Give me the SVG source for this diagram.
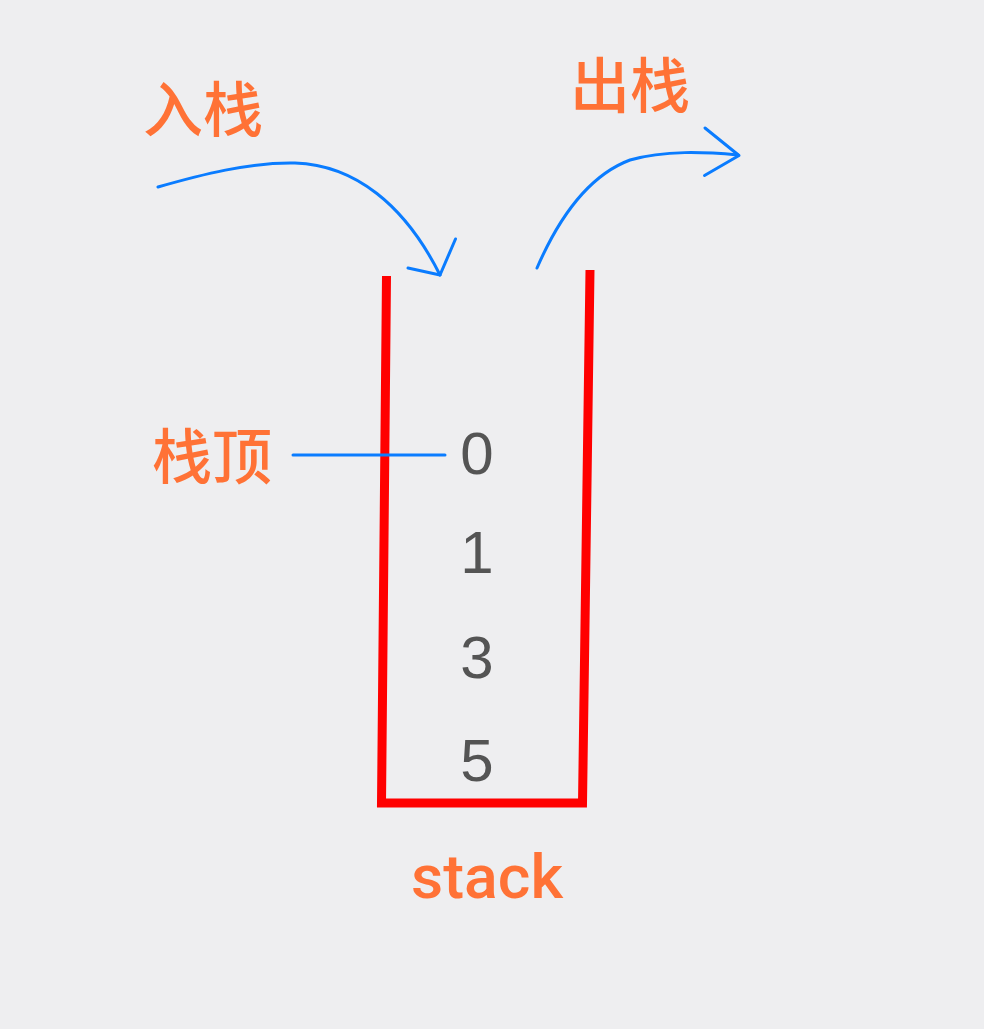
<svg xmlns="http://www.w3.org/2000/svg" width="984" height="1029" viewBox="0 0 984 1029">
<style>
.lbl{font-family:"Noto Sans CJK SC","Noto Sans",sans-serif;font-weight:500;font-size:60px;fill:#FF7236;text-anchor:middle}
.num{font-family:"Liberation Sans",Arial,sans-serif;font-size:60px;fill:#545454;text-anchor:middle}
.blue{fill:none;stroke:#0A7CFF;stroke-width:3;stroke-linecap:round;stroke-linejoin:round}
</style>
<rect width="984" height="1029" fill="#EEEEF0"/>
<g id="stack">
<path d="M386.5,276 L381.5,803 L582.5,803 L590,270" fill="none" stroke="#FF0000" stroke-width="9"/>
</g>
<g id="connectors">
<path class="blue" d="M158,187 C200,175 250,162 295,163 C355,165 405,205 440,275"/>
<path class="blue" d="M408,268 L440,275 L455.5,239"/>
<path class="blue" d="M537,268 C560,215 590,175 630,160 C665,150 705,152 738,155"/>
<path class="blue" d="M705,128 L739,155.5 L704.5,175.5"/>
<path class="blue" d="M293,455 L445,455"/>
</g>
<g id="push"><text class="lbl" x="203" y="132">入栈</text></g>
<g id="pop"><text class="lbl" x="630" y="108">出栈</text></g>
<g id="top"><text class="lbl" x="212" y="479">栈顶</text></g>
<g id="n0"><text class="num" x="477" y="474">0</text></g>
<g id="n1"><text class="num" x="477" y="573">1</text></g>
<g id="n3"><text class="num" x="477" y="678">3</text></g>
<g id="n5"><text class="num" x="477" y="781">5</text></g>
<g id="label"><text x="487" y="898" font-family="Roboto,Liberation Sans,sans-serif" font-weight="500" font-size="62" fill="#FF7236" text-anchor="middle" textLength="152" lengthAdjust="spacingAndGlyphs">stack</text></g>
</svg>
